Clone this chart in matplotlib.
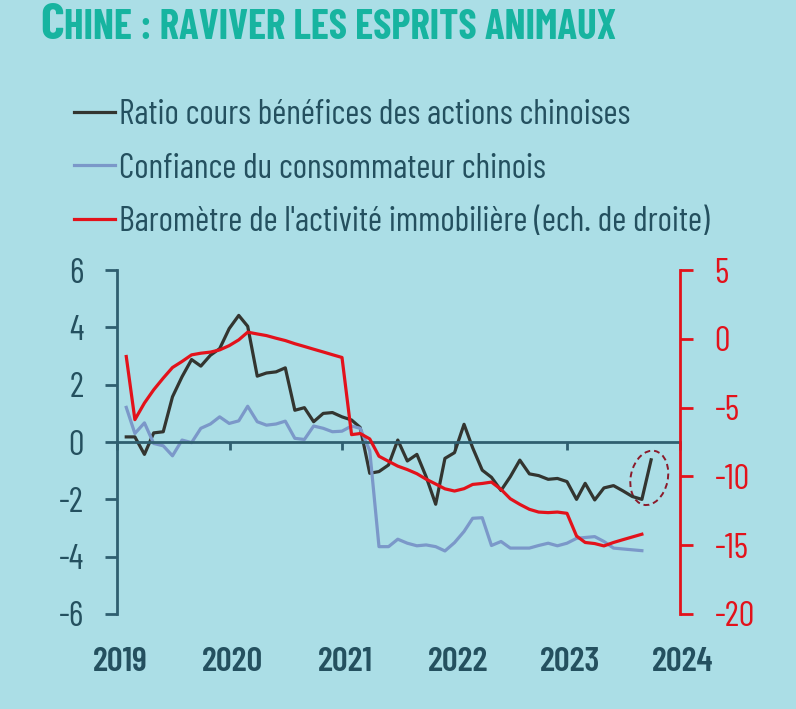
import numpy as np
import pandas as pd
import matplotlib
matplotlib.use("Agg")
import matplotlib.pyplot as plt
import matplotlib.dates as mdates
from matplotlib import font_manager as fm
from matplotlib.patches import Ellipse
from matplotlib.transforms import ScaledTranslation

installed = {f.name for f in fm.fontManager.ttflist}
candidats = ["Barlow Condensed", "Roboto Condensed", "Liberation Sans Narrow", "DejaVu Sans"]
police = [c for c in candidats if c in installed][0]
plt.rcParams['font.family'] = [police, 'DejaVu Sans']
plt.rcParams['axes.unicode_minus'] = False

# donnees (mensuel, fin de mois)
ratio_pe = [0.18, 0.18, -0.43, 0.32, 0.36, 1.58, 2.28, 2.88, 2.65, 3.03, 3.26, 3.96,
            4.42, 4.04, 2.30, 2.41, 2.45, 2.59, 1.11, 1.20, 0.71, 1.00, 1.03, 0.88,
            0.77, 0.51, -1.09, -1.03, -0.80, 0.07, -0.66, -0.43, -1.21, -2.17, -0.57, -0.37,
            0.62, -0.20, -0.98, -1.23, -1.69, -1.21, -0.63, -1.11, -1.17, -1.30, -1.27, -1.38,
            -2.00, -1.44, -2.02, -1.60, -1.52, -1.70, -1.90, -2.00, -0.62]
confiance = [1.21, 0.30, 0.67, -0.05, -0.13, -0.48, 0.07, -0.02, 0.48, 0.63, 0.88, 0.65,
             0.74, 1.25, 0.71, 0.59, 0.63, 0.73, 0.13, 0.09, 0.56, 0.48, 0.36, 0.38,
             0.56, 0.48, -0.30, -3.65, -3.65, -3.39, -3.53, -3.62, -3.59, -3.65, -3.80, -3.51,
             -3.12, -2.66, -2.64, -3.61, -3.47, -3.70, -3.70, -3.70, -3.61, -3.53, -3.62, -3.53,
             -3.36, -3.33, -3.30, -3.47, -3.70, -3.73, -3.76, -3.79]
immobilier = [-1.28, -5.87, -4.66, -3.70, -2.85, -2.08, -1.64, -1.16, -1.04, -0.96, -0.80, -0.49,
              -0.07, 0.49, 0.36, 0.24, 0.05, -0.12, -0.35, -0.55, -0.75, -0.95, -1.15, -1.35,
              -6.96, -6.88, -7.27, -8.53, -8.90, -9.25, -9.50, -9.80, -10.20, -10.55, -10.90, -11.06,
              -10.89, -10.58, -10.51, -10.41, -10.94, -11.62, -12.03, -12.39, -12.59, -12.63, -12.59, -12.68,
              -14.33, -14.80, -14.88, -15.05, -14.80, -14.60, -14.40, -14.20]

annees = [2019, 2020, 2021, 2022, 2023, 2024]
labels = ["Ratio cours bénéfices des actions chinoises",
          "Confiance du consommateur chinois",
          "Baromètre de l'activité immobilière (ech. de droite)"]

dates_pe = pd.date_range("2019-01-31", periods=len(ratio_pe), freq="ME")
dates_conf = pd.date_range("2019-01-31", periods=len(confiance), freq="ME")
dates_immo = pd.date_range("2019-01-31", periods=len(immobilier), freq="ME")

fond = "#abdee6"
bleu_fonce = "#24505f"
rouge = "#e3121b"

fig = plt.figure(figsize=(7.96, 7.09), dpi=100, facecolor=fond)
ax = fig.add_axes([0.147, 0.134, 0.707, 0.485])
ax.set_facecolor(fond)
ax2 = ax.twinx()

l1, = ax.plot(dates_pe, ratio_pe, color="#333530", lw=2.3)
l2, = ax.plot(dates_conf, confiance, color="#7b98c9", lw=2.3)
l3, = ax2.plot(dates_immo, immobilier, color=rouge, lw=2.3)

ax.set_xlim(pd.Timestamp("2019-01-01"), pd.Timestamp("2024-01-01"))
ax.set_ylim(-6, 6)
ax2.set_ylim(-20, 5)

ax.set_yticks(np.arange(-6, 7, 2))
ax2.set_yticks(np.arange(-20, 6, 5))
ax.set_xticks([pd.Timestamp(f"{a}-01-01") for a in annees])

for s in ["top", "right"]:
    ax.spines[s].set_visible(False)
ax.spines["bottom"].set_position(("data", 0))
ax.spines["bottom"].set_color("#2f5f70")
ax.spines["bottom"].set_linewidth(2)
ax.spines["left"].set_color("#2f5f70")
ax.spines["left"].set_linewidth(2)
for s in ["top", "left", "bottom"]:
    ax2.spines[s].set_visible(False)
ax2.spines["right"].set_color(rouge)
ax2.spines["right"].set_linewidth(2)

ax.tick_params(axis="y", direction="out", length=9, width=2, color="#2f5f70",
               labelsize=25, labelcolor=bleu_fonce, pad=15)
ax.tick_params(axis="x", direction="out", length=6, width=2, color="#2f5f70", labelbottom=False)
ax2.tick_params(axis="y", direction="out", length=9, width=2, color=rouge,
                labelsize=25, labelcolor=rouge, pad=16)

for a in annees:
    ax.text(pd.Timestamp(f"{a}-01-01") + pd.Timedelta(days=10), -0.14, str(a),
            transform=ax.get_xaxis_transform(), ha="center", va="center",
            fontsize=25, color=bleu_fonce, fontweight="semibold")

# ellipse pointillee autour du dernier point
cx = mdates.date2num(pd.Timestamp("2023-09-24"))
ell = Ellipse((0, 0), 0.37, 0.55, angle=-12, fill=False, ls=(0, (3, 2)), lw=1.4,
              ec="#8b1a2a", transform=fig.dpi_scale_trans + ScaledTranslation(cx, -1.25, ax.transData))
ax.add_patch(ell)

fig.legend([l1, l2, l3], labels, loc="upper left", bbox_to_anchor=(0.093, 0.861),
           frameon=False, fontsize=24.7, labelcolor=bleu_fonce, handlelength=1.2,
           handletextpad=0.12, labelspacing=0.64, borderaxespad=0, borderpad=0)

# titre en petites capitales
t1 = fig.text(0.05, 0.945, "C", fontsize=37, fontweight="bold", color="#17b4a0", va="baseline")
fig.canvas.draw()
bb = t1.get_window_extent()
x2 = bb.x1 / fig.bbox.width
fig.text(x2, 0.945, "HINE : RAVIVER LES ESPRITS ANIMAUX", fontsize=29.5, fontweight="bold",
         color="#17b4a0", va="baseline")

fig.savefig("out.png", dpi=100, facecolor=fond)
